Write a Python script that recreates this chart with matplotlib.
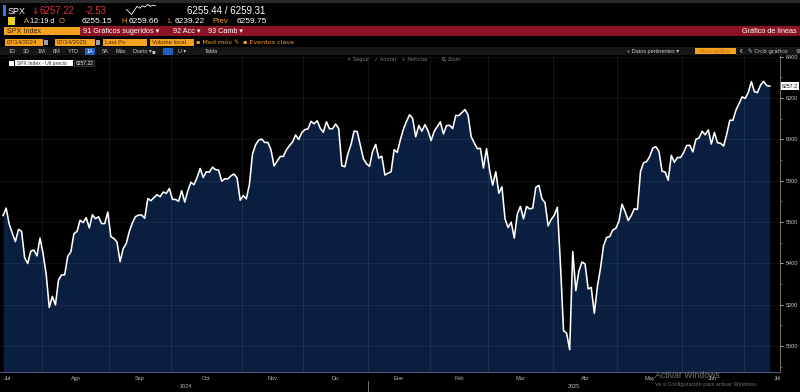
import matplotlib
matplotlib.use("Agg")
import matplotlib.pyplot as plt
from matplotlib.patches import Rectangle, Circle
from matplotlib.ticker import MultipleLocator
import numpy as np
import pandas as pd

plt.rcParams['font.family'] = ['Liberation Sans', 'DejaVu Sans']

# SPX daily closes, 15 Jul 2024 - 14 Jul 2025
jul24 = [5631, 5667, 5589, 5545, 5505, 5564, 5555, 5427, 5399, 5459, 5464, 5436, 5522]
aug24 = [5446, 5347, 5186, 5240, 5199, 5319, 5344, 5344, 5434, 5455, 5543, 5554,
         5608, 5597, 5621, 5571, 5635, 5616, 5625, 5592, 5592, 5648]
sep24 = [5529, 5520, 5503, 5408, 5471, 5496, 5554, 5596, 5626, 5633, 5634, 5618,
         5713, 5703, 5718, 5732, 5722, 5745, 5738, 5762]
oct24 = [5709, 5709, 5700, 5751, 5696, 5751, 5792, 5780, 5815, 5859, 5815, 5843,
         5841, 5865, 5853, 5851, 5797, 5809, 5808, 5823, 5832, 5813, 5705]
nov24 = [5728, 5712, 5782, 5929, 5973, 5996, 6001, 5984, 5985, 5949, 5871, 5894,
         5917, 5917, 5949, 5969, 5987, 6021, 5999, 6032]
dec24 = [6047, 6050, 6087, 6075, 6090, 6053, 6034, 6085, 6051, 6051, 6074, 6051,
         5872, 5867, 5931, 5975, 6040, 6037, 5971, 5907, 5882]
jan25 = [5869, 5942, 5975, 5909, 5918, 5827, 5836, 5843, 5950, 5937, 5997, 6049,
         6086, 6119, 6101, 6012, 6067, 6039, 6071, 6041]
feb25 = [5994, 6038, 6061, 6084, 6026, 6066, 6068, 6052, 6115, 6115, 6129, 6144,
         6118, 6013, 5983, 5955, 5956, 5861, 5955]
mar25 = [5850, 5778, 5843, 5739, 5770, 5615, 5573, 5599, 5522, 5639, 5675, 5615,
         5675, 5663, 5667, 5768, 5777, 5712, 5693, 5581, 5612]
apr25 = [5633, 5671, 5397, 5074, 5062, 4982, 5457, 5268, 5363, 5406, 5397, 5276,
         5283, 5158, 5288, 5376, 5485, 5525, 5529, 5561, 5569]
may25 = [5604, 5686, 5650, 5607, 5631, 5664, 5660, 5844, 5886, 5892, 5917, 5958,
         5964, 5941, 5845, 5842, 5802, 5922, 5889, 5912, 5912]
jun25 = [5936, 5970, 5971, 5939, 6000, 6006, 6039, 6022, 6045, 5977, 6033, 5983,
         5981, 5967, 6025, 6092, 6092, 6141, 6173, 6205]
jul25 = [6198, 6227, 6279, 6230, 6226, 6263, 6280, 6259.75, 6257.22]

closes = np.array(jul24 + aug24 + sep24 + oct24 + nov24 + dec24 + jan25 + feb25
                  + mar25 + apr25 + may25 + jun25 + jul25, dtype=float)

holidays = ["2024-07-04", "2024-09-02", "2024-11-28", "2024-12-25", "2025-01-01",
            "2025-01-09", "2025-01-20", "2025-02-17", "2025-04-18", "2025-05-26",
            "2025-06-19", "2025-07-04"]
cal = pd.bdate_range("2024-07-01", "2025-07-31")
cal = cal[~cal.isin(pd.to_datetime(holidays))]
start = cal.get_loc(pd.Timestamp("2024-07-15"))
idx_all = np.arange(len(cal)) - start          # trading-day index, 0 = first point
x = np.arange(len(closes))

month_names = ["Jul", "Ago", "Sep", "Oct", "Nov", "Dic", "Ene", "Feb", "Mar",
               "Abr", "May", "Jun", "Jul"]
yticks = [5000, 5200, 5400, 5600, 5800, 6000, 6200, 6400]
last_px = 6257.22
spark = [6250, 6246, 6242, 6249, 6255, 6252, 6256, 6254, 6258, 6255, 6257, 6256]

fig = plt.figure(figsize=(8, 3.92), dpi=100)
fig.patch.set_facecolor("black")

W, H = 800, 392
ax = fig.add_axes([0 / W, 1 - 372 / H, 780 / W, (372 - 56) / H])
ax.set_facecolor("black")
ax.fill_between(x, closes, 4800, color="#0a1f40", lw=0, zorder=1)
ax.plot(x, closes, color="white", lw=1.15, zorder=3)
ax.set_xlim(-1, 252.3)
ax.set_ylim(4874, 6403)

# month separators and labels
months = cal.to_period("M")
mcenters, mstarts = [], []
for p in months.unique():
    ii = idx_all[months == p]
    mcenters.append((ii[0] + ii[-1]) / 2)
    mstarts.append(ii[0] - 0.5)
for s in mstarts[1:]:
    ax.axvline(s, color="white", alpha=0.09, lw=0.6, zorder=2)
for yv in yticks:
    ax.axhline(yv, color="white", alpha=0.07, lw=0.6, zorder=2)

ax.set_xticks(mcenters)
ax.set_xticklabels(month_names, color="#b8b8b8", fontsize=4)
ax.tick_params(axis="x", length=0, pad=3)

jan1 = idx_all[cal.year == 2025][0] - 0.5
xt = ax.get_xaxis_transform()
ax.text((x[0] + jan1) / 2, -0.045, "2024", transform=xt,
        color="#b8b8b8", fontsize=4, ha="center", va="center")
ax.text((jan1 + 252.3) / 2, -0.045, "2025", transform=xt,
        color="#b8b8b8", fontsize=4, ha="center", va="center")
ax.plot([jan1, jan1], [-0.03, -0.06], transform=xt,
        color="#888888", lw=0.6, clip_on=False)

ax.yaxis.tick_right()
ax.set_yticks(yticks)
ax.set_yticklabels([str(v) for v in yticks], color="#c8c8c8", fontsize=4)
ax.yaxis.set_minor_locator(MultipleLocator(100))
ax.tick_params(axis="y", which="major", length=2.5, width=0.6, color="#cccccc", pad=1.5)
ax.tick_params(axis="y", which="minor", length=1.5, width=0.4, color="#999999")
for s in ["top", "left"]:
    ax.spines[s].set_visible(False)
ax.spines["right"].set_color("#8a8a8a")
ax.spines["right"].set_linewidth(0.6)
ax.spines["bottom"].set_color("#4a5a70")
ax.spines["bottom"].set_linewidth(0.8)

ax.annotate("6257.2", xy=(1.0, last_px), xycoords=("axes fraction", "data"),
            xytext=(1.5, 0), textcoords="offset points", fontsize=3.8,
            color="#111111", va="center", ha="left", annotation_clip=False,
            bbox=dict(boxstyle="square,pad=0.25", fc="white", ec="none"))

# header / toolbar overlay in pixel coordinates
hd = fig.add_axes([0, 0, 1, 1], zorder=5)
hd.set_xlim(0, W)
hd.set_ylim(H, 0)
hd.axis("off")
hd.patch.set_alpha(0)

ORANGE = "#f5a21e"
RED = "#8c1426"
SYM = ["Liberation Sans", "DejaVu Sans"]


def box(x0, y0, x1, y1, color):
    hd.add_patch(Rectangle((x0, y0), x1 - x0, y1 - y0, fc=color, ec="none"))


def txt(xp, yp, s, color="white", size=5, ha="left", **kw):
    hd.text(xp, yp, s, color=color, fontsize=size, ha=ha, va="center", **kw)


box(0, 0, W, 3, "#2a2a2a")
box(3, 5, 6, 16, "#2f7be0")
txt(8, 11, "SPX", size=6.5)
txt(31, 11, "↓", color="#e0303a", size=6.5, family=["DejaVu Sans"])
txt(39, 11, "6257.22", color="#e0303a", size=7)
txt(85, 11, "-2.53", color="#e0303a", size=7)
txt(187, 11, "6255.44 / 6259.31", size=7)

sp = fig.add_axes([125 / W, 1 - 15 / H, 32 / W, 11 / H], zorder=6)
sp.plot(np.arange(len(spark)), spark, color="white", lw=0.6)
sp.axis("off")
sp.patch.set_alpha(0)

box(8, 17, 15, 25, "#e8d020")
txt(24, 21.5, "A", color=ORANGE, size=5.5)
txt(30.5, 21.5, "12:19 d", size=5.2)
txt(59, 21.5, "O", color=ORANGE, size=5.5)
txt(82, 21.5, "6255.15", size=6)
txt(121, 21.5, "H", color=ORANGE, size=5.5)
txt(128.5, 21.5, "6259.66", size=6)
txt(167, 21.5, "L", color=ORANGE, size=5.5)
txt(175, 21.5, "6239.22", size=6)
txt(212, 21.5, "Prev", color=ORANGE, size=5.5)
txt(237, 21.5, "6259.75", size=6)

box(80, 26, W, 36, RED)
box(4, 27, 80, 35, ORANGE)
txt(7, 31, "SPX Index", color="#3a2000", size=5.2)
txt(83, 31, "91 Gráficos sugeridos ▾", size=5.2, family=SYM)
txt(173, 31, "92 Acc ▾", size=5.2, family=SYM)
txt(208, 31, "93 Camb ▾", size=5.2, family=SYM)
txt(797, 31, "Gráfico de líneas", size=5.2, ha="right")

for x0, x1, label in [(5, 43, "07/14/2024"), (55, 95, "07/14/2025"),
                      (103, 147, "Last Px"), (150, 194, "Volume local")]:
    box(x0, 38.5, x1, 46, ORANGE)
    txt(x0 + 2, 42.3, label, color="#4a2a00", size=4.3)
box(44, 39.5, 48, 45, "#9aa0a8")
box(96, 39.5, 100, 45, "#9aa0a8")
txt(196, 42.3, "▪ Med móv ✎", color=ORANGE, size=4.6, family=["DejaVu Sans"])
txt(243, 42.3, "▪ Eventos clave", color=ORANGE, size=4.6, family=["DejaVu Sans"])

box(0, 47, W, 55, "#161616")
for xp, label in [(9, "1D"), (23, "3D"), (38, "1M"), (53, "6M"), (68, "YTD"),
                  (102, "5A"), (115, "Máx"), (133, "Diario ▾"), (178, "U ▾"),
                  (205, "Tabla")]:
    txt(xp, 51.3, label, color="#c8c8c8", size=4, family=SYM)
box(85, 47.5, 95, 54.5, "#1f5fc0")
txt(90, 51.3, "1A", size=4, ha="center")
txt(152, 51.3, "▪", color="#c8c8c8", size=4, family=["DejaVu Sans"])
box(163, 47.5, 173, 54.5, "#1f5fc0")
txt(627, 51.3, "+ Datos pertinentes ▾", color="#c8c8c8", size=4, family=SYM)
box(695, 47.8, 736, 54.2, ORANGE)
txt(715, 51.3, "Modo gráfico", color="#c07010", size=3.6, ha="center")
txt(740, 51.3, "€", color="#c8c8c8", size=4)
txt(748, 51.3, "✎ Crcb gráfico", color="#c8c8c8", size=4, family=["DejaVu Sans"])
txt(796, 51.3, "⚙", color="#c8c8c8", size=4, family=["DejaVu Sans"])

txt(347, 59.5, "+ Seguir   ✓ Anotar   + Noticias", color="#7a7a7a", size=3.6,
    family=["DejaVu Sans"])
# magnifier symbol for the Zoom button
hd.add_patch(Circle((443.5, 59.0), 1.4, fc="none", ec="#7a7a7a", lw=0.5))
hd.plot([444.5, 446.0], [60.0, 61.3], color="#7a7a7a", lw=0.5)
txt(448, 59.5, "Zoom", color="#7a7a7a", size=3.6)

box(9, 60.5, 14, 65.5, "white")
box(15, 60, 73, 66, "white")
txt(17, 63, "SPX Index - Ult precio", color="#333333", size=3.6)
hd.add_patch(Rectangle((74, 60), 20, 6, fc="#111111", ec="#555555", lw=0.4))
txt(76, 63, "6257.22", color="white", size=3.6)

txt(655, 375.5, "Activar Windows", color="#8a8a8a", size=6.3, alpha=0.8)
txt(655, 384.5, "Ve a Configuración para activar Windows.", color="#8a8a8a", size=4,
    alpha=0.8)

fig.savefig("out.png", dpi=100, facecolor="black")
